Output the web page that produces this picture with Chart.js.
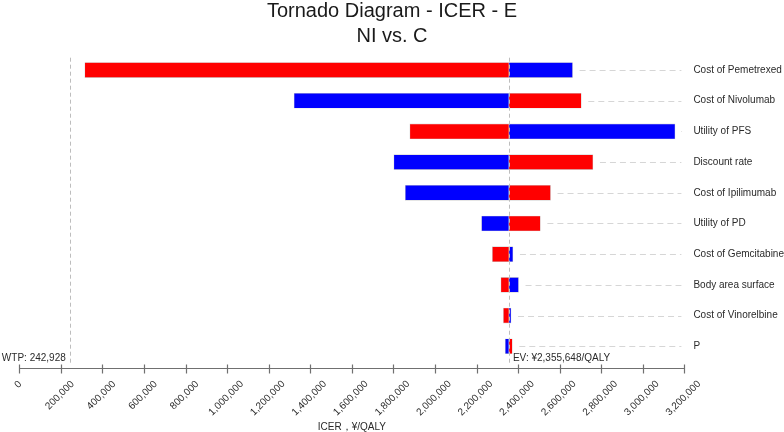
<!DOCTYPE html>
<html>
<head>
<meta charset="utf-8">
<title>Tornado Diagram - ICER - E</title>
<script src="https://cdn.jsdelivr.net/npm/chart.js@4.4.1/dist/chart.umd.min.js"></script>
<style>
  html, body { margin: 0; padding: 0; background: #fff; }
  #wrap { width: 784px; height: 432px; }
</style>
</head>
<body>
<div id="wrap"><canvas id="tornado" width="784" height="432"></canvas></div>
<script>
// Tornado diagram: ICER swing per parameter around the expected value.
const categories = [
	'Cost of Pemetrexed', 'Cost of Nivolumab', 'Utility of PFS', 'Discount rate',
	'Cost of Ipilimumab', 'Utility of PD', 'Cost of Gemcitabine', 'Body area surface',
	'Cost of Vinorelbine', 'P',
];
// red = ICER at one end of the parameter range, blue = the other end
const redIcer = [315000, 2704000, 1879000, 2760000, 2556000, 2507000, 2276000, 2317000, 2329000, 2372000];
const blueIcer = [2662000, 1322000, 3155000, 1802000, 1857000, 2224000, 2375000, 2402000, 2366000, 2338000];
const EV = 2355648;
const WTP = 242928;
const X_MIN = 0;
const X_MAX = 3200000;
const X_STEP = 200000;
const TITLE_LINES = ['Tornado Diagram - ICER - E', 'NI vs. C'];

const COLORS = {
	red: '#ff0000',
	blue: '#0000ff',
	title: '#1a1a1a',
	text: '#2a2a2a',
	axis: '#707070',
	guide: '#d6d6d6',
	refLine: '#bdbdbd',
};
const FONT = '"Liberation Sans", Arial, Helvetica, sans-serif';
Chart.defaults.font.family = FONT;

const fmt = (v) => v.toLocaleString('en-US');

// draws the title, dashed guides, reference lines and the offset x axis
const tornadoDecor = {
	id: 'tornadoDecor',
	beforeDatasetsDraw(chart) {
		const { ctx, chartArea, scales: { x, y } } = chart;
		ctx.save();
		ctx.strokeStyle = COLORS.guide;
		ctx.lineWidth = 1;
		ctx.setLineDash([6, 4]);
		categories.forEach((c, i) => {
			const yy = Math.round(y.getPixelForValue(i)) + 0.5;
			const end = x.getPixelForValue(Math.max(redIcer[i], blueIcer[i])) + 7;
			ctx.beginPath();
			ctx.moveTo(end, yy);
			ctx.lineTo(chartArea.right - 3, yy);
			ctx.stroke();
		});
		ctx.restore();
	},
	afterDatasetsDraw(chart) {
		const { ctx, chartArea, scales: { x } } = chart;
		const axisY = Math.round(chartArea.bottom + 6) + 0.5;
		ctx.save();

		// title, centred on the whole canvas
		ctx.fillStyle = COLORS.title;
		ctx.font = '20px ' + FONT;
		ctx.textAlign = 'center';
		ctx.textBaseline = 'alphabetic';
		TITLE_LINES.forEach((t, i) => ctx.fillText(t, chart.width / 2, 17 + i * 25));

		// EV and WTP reference lines
		ctx.strokeStyle = COLORS.refLine;
		ctx.lineWidth = 1;
		ctx.setLineDash([4, 3]);
		[EV, WTP].forEach((v) => {
			const xx = Math.round(x.getPixelForValue(v)) + 0.5;
			ctx.beginPath();
			ctx.moveTo(xx, chartArea.top + 3);
			ctx.lineTo(xx, axisY - 4);
			ctx.stroke();
		});
		ctx.setLineDash([]);

		// axis line + tick marks
		ctx.strokeStyle = COLORS.axis;
		ctx.lineWidth = 1.2;
		ctx.beginPath();
		ctx.moveTo(x.getPixelForValue(X_MIN), axisY);
		ctx.lineTo(x.getPixelForValue(X_MAX), axisY);
		x.ticks.forEach((t) => {
			const xx = Math.round(x.getPixelForValue(t.value)) + 0.5;
			ctx.moveTo(xx, axisY - 4);
			ctx.lineTo(xx, axisY + 5);
		});
		ctx.stroke();

		// rotated tick labels, centred on the tick
		ctx.fillStyle = COLORS.text;
		ctx.font = '10px ' + FONT;
		ctx.textAlign = 'center';
		ctx.textBaseline = 'middle';
		x.ticks.forEach((t) => {
			const label = fmt(t.value);
			const w = ctx.measureText(label).width;
			ctx.save();
			ctx.translate(x.getPixelForValue(t.value) - 1, axisY + 14 + w * 0.3535);
			ctx.rotate(-Math.PI / 4);
			ctx.fillText(label, 0, 0);
			ctx.restore();
		});

		// reference line labels
		ctx.textBaseline = 'alphabetic';
		ctx.textAlign = 'right';
		ctx.fillText('WTP: ' + fmt(WTP), x.getPixelForValue(WTP) - 4, axisY - 8);
		ctx.textAlign = 'left';
		ctx.fillText('EV: ¥' + fmt(EV) + '/QALY', x.getPixelForValue(EV) + 4, axisY - 8);
		ctx.restore();
	},
};

new Chart(document.getElementById('tornado').getContext('2d'), {
	type: 'bar',
	data: {
		labels: categories,
		datasets: [
			{
				label: 'red',
				data: redIcer.map((v) => [EV, v]),
				backgroundColor: COLORS.red,
				borderColor: 'rgba(190,190,190,0.7)',
				borderWidth: 0.6,
				borderSkipped: false,
				barThickness: 15,
				grouped: false,
			},
			{
				label: 'blue',
				data: blueIcer.map((v) => [EV, v]),
				backgroundColor: COLORS.blue,
				borderColor: 'rgba(190,190,190,0.7)',
				borderWidth: 0.6,
				borderSkipped: false,
				barThickness: 15,
				grouped: false,
			},
		],
	},
	options: {
		indexAxis: 'y',
		responsive: false,
		animation: false,
		layout: { padding: { left: 19.3, right: 0, top: 54.7, bottom: 0 } },
		plugins: {
			legend: { display: false },
			tooltip: { enabled: false },
			title: { display: false },
		},
		scales: {
			x: {
				type: 'linear',
				min: X_MIN,
				max: X_MAX,
				ticks: { display: false, stepSize: X_STEP },
				grid: { display: false, drawTicks: false },
				border: { display: false },
				title: {
					display: true,
					text: 'ICER，¥/QALY',
					color: COLORS.text,
					font: { size: 10, lineHeight: 1 },
					padding: { top: 60.4, bottom: 0 },
				},
			},
			y: {
				position: 'right',
				grid: { display: false, drawTicks: false },
				border: { display: false },
				ticks: { color: COLORS.text, font: { size: 10 }, padding: 9 },
				afterFit(scale) { scale.width = 99.6; },
			},
		},
	},
	plugins: [tornadoDecor],
});
</script>
</body>
</html>
